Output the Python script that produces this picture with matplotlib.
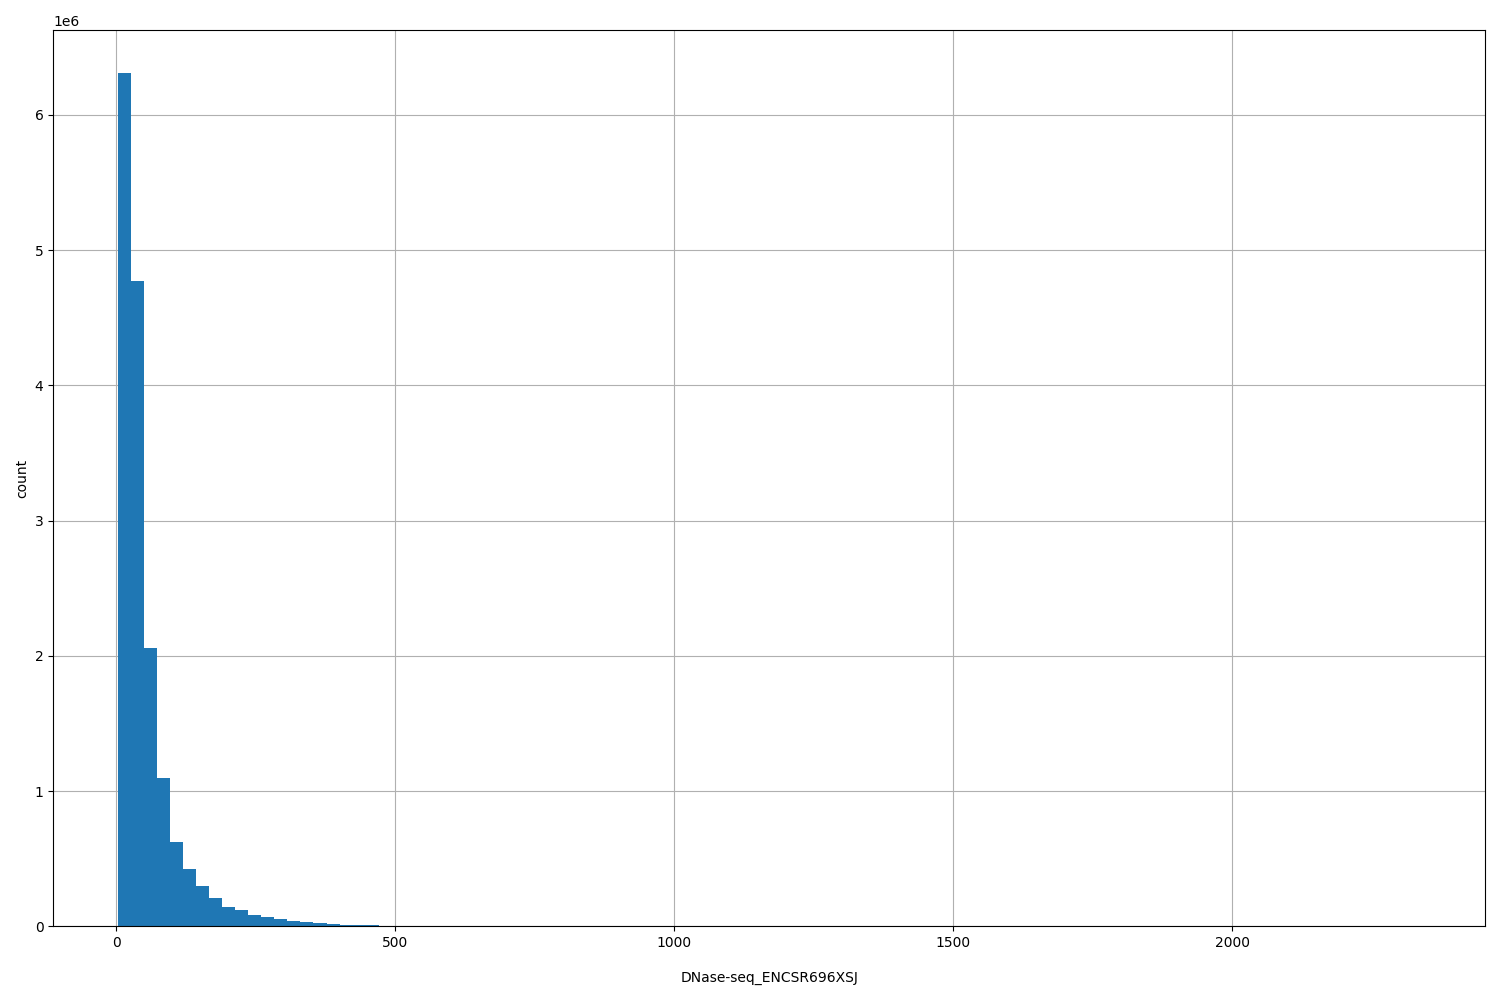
import numpy as np
import matplotlib as mpl
mpl.use('Agg')
import matplotlib.pyplot as plt

# histogram of signal values, 100 bins between min and max
lo, hi = 3.6, 2336.0
n_bins = 100

counts_head = [6.31e6, 4.77e6, 2.06e6, 1.096e6, 0.622e6, 0.422e6, 0.296e6,
               0.207e6, 0.141e6, 0.118e6, 0.081e6, 0.067e6, 0.052e6, 0.037e6,
               0.030e6, 0.022e6, 0.015e6, 0.010e6, 0.008e6, 0.007e6, 0.006e6]
counts_tail = [3500, 1800, 1300, 950, 700, 520, 400, 300, 230, 180,
               140, 110, 90, 70, 55, 45, 36, 30, 25, 20,
               17, 14, 12, 10, 9, 8, 7, 6, 5, 5,
               4, 4, 3, 3, 3, 2, 2, 2, 2, 2,
               1, 1, 1, 1, 1, 1, 1, 1, 1, 1,
               1, 1, 1, 0, 1, 0, 1, 0, 0, 1,
               0, 0, 1, 0, 0, 0, 1, 0, 0, 0,
               0, 0, 0, 0, 0, 0, 0, 0, 1]
counts = np.array(counts_head + counts_tail, dtype=float)

edges = np.linspace(lo, hi, n_bins + 1)
centers = 0.5 * (edges[:-1] + edges[1:])

fig, ax = plt.subplots(figsize=(15, 10), dpi=100)
ax.hist(centers, bins=edges, weights=counts, color='C0')
ax.grid(True)
ax.set_axisbelow(True)
ax.set_xlabel('DNase-seq_ENCSR696XSJ', labelpad=15)
ax.set_ylabel('count')
plt.tight_layout()
plt.savefig('out.png')
